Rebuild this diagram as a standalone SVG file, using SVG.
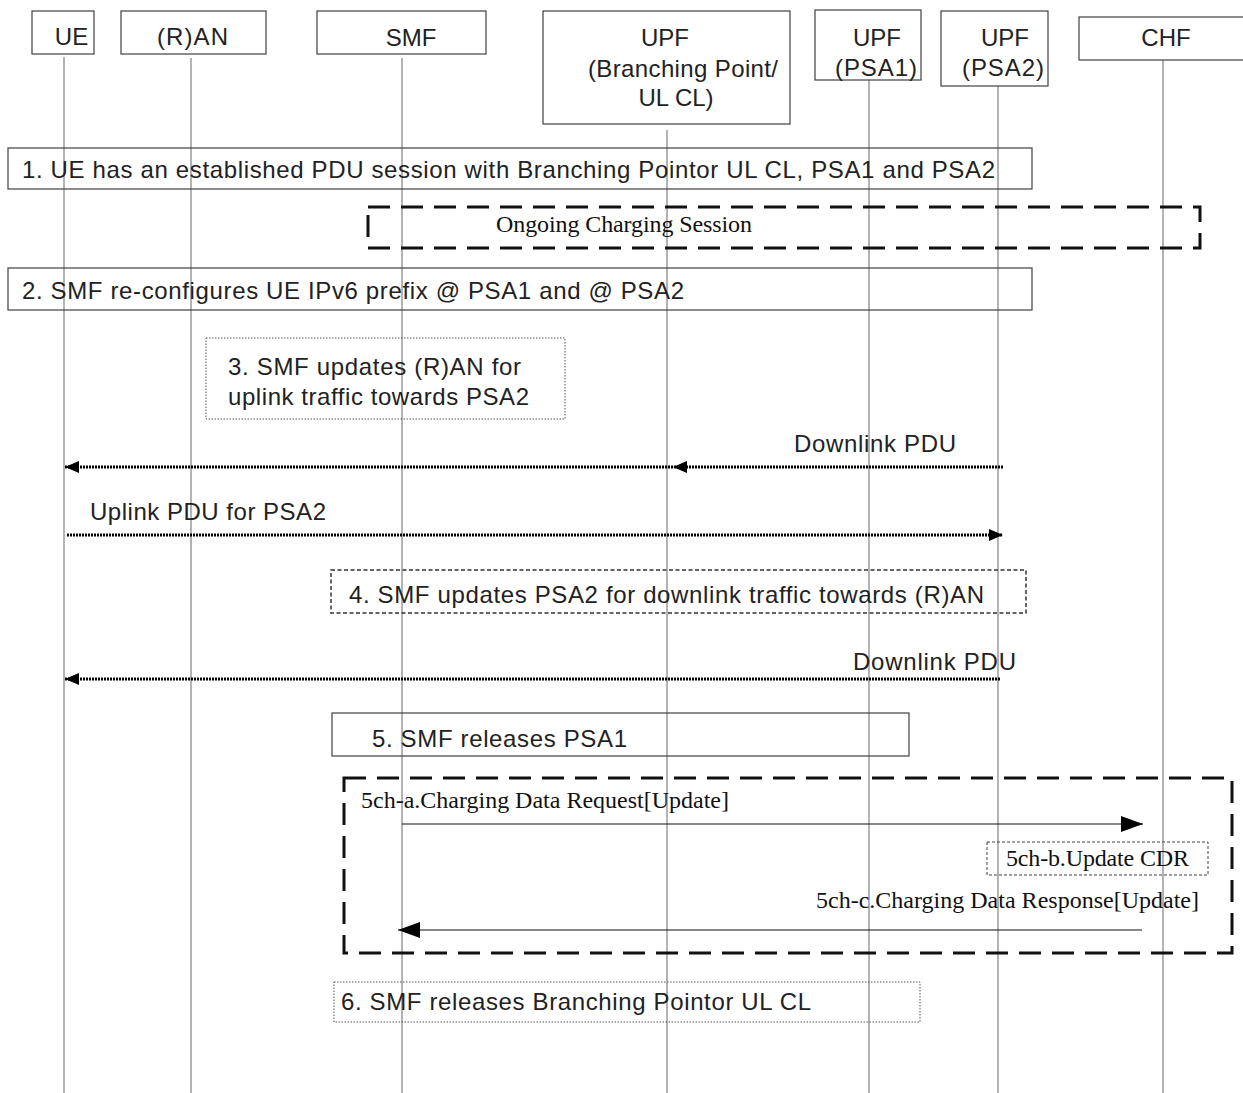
<svg xmlns="http://www.w3.org/2000/svg" width="1243" height="1093" viewBox="0 0 1243 1093">
<style>
.bg{fill:#fff}
.box{fill:#fff;stroke:#404040;stroke-width:1.2}
.life{stroke:#808080;stroke-width:1.2;fill:none}
.t{font-family:"Liberation Sans",Arial,sans-serif;font-size:24px;fill:#222}
.tm{text-anchor:middle}
.s{font-family:"Liberation Serif","Times New Roman",serif;font-size:24px;fill:#111}
.bigdash{fill:none;stroke:#111;stroke-width:3;stroke-dasharray:22 11}
.dot{fill:none;stroke:#555;stroke-width:1;stroke-dasharray:1.5 1.5}
.dash{fill:none;stroke:#333;stroke-width:1.5;stroke-dasharray:4 2.5}
.thin{fill:none;stroke:#444;stroke-width:1;stroke-dasharray:3 2}
.dl{stroke:#000;stroke-width:3;stroke-dasharray:2 1;fill:none}
.sl{stroke:#111;stroke-width:1.2;fill:none}
</style>
<defs>
<marker id="ah" markerUnits="userSpaceOnUse" viewBox="0 0 14 12" markerWidth="14" markerHeight="12" refX="14" refY="6" orient="auto">
<path d="M0,0 L14,6 L0,12 z" fill="#000"/>
</marker>
<marker id="ahb" markerUnits="userSpaceOnUse" viewBox="0 0 22 16" markerWidth="22" markerHeight="16" refX="22" refY="8" orient="auto">
<path d="M0,0 L22,8 L0,16 z" fill="#000"/>
</marker>
</defs>
<rect class="bg" x="0" y="0" width="1243" height="1093"/>

<g id="lifelines">
<line class="life" x1="64" y1="57" x2="64" y2="1093"/>
<line class="life" x1="191" y1="58" x2="191" y2="1093"/>
<line class="life" x1="402" y1="58" x2="402" y2="1093"/>
<line class="life" x1="667" y1="130" x2="667" y2="1093"/>
<line class="life" x1="869" y1="76" x2="869" y2="1093"/>
<line class="life" x1="998" y1="77" x2="998" y2="1093"/>
<line class="life" x1="1163" y1="60" x2="1163" y2="1093"/>
</g>

<g id="node-ue">
<rect class="box" x="32" y="11" width="62" height="43"/>
<text class="t tm" x="71.5" y="45">UE</text>
</g>
<g id="node-ran">
<rect class="box" x="121" y="11" width="145" height="43"/>
<text class="t tm" x="192.5" y="45" textLength="71">(R)AN</text>
</g>
<g id="node-smf">
<rect class="box" x="317" y="11" width="169" height="43"/>
<text class="t tm" x="411" y="46">SMF</text>
</g>
<g id="node-upf-bp">
<rect class="box" x="543" y="11" width="247" height="113"/>
<text class="t tm" x="665" y="46">UPF</text>
<text class="t" x="588" y="77" textLength="190">(Branching Point/</text>
<text class="t tm" x="676" y="106">UL CL)</text>
</g>
<g id="node-upf-psa1">
<rect class="box" x="815" y="10" width="106" height="70"/>
<text class="t tm" x="877" y="46">UPF</text>
<text class="t" x="835" y="76" textLength="82">(PSA1)</text>
</g>
<g id="node-upf-psa2">
<rect class="box" x="941" y="11" width="107" height="75"/>
<text class="t tm" x="1005" y="46">UPF</text>
<text class="t" x="962" y="76" textLength="82">(PSA2)</text>
</g>
<g id="node-chf">
<rect class="box" x="1079" y="17" width="170" height="43"/>
<text class="t tm" x="1166" y="46">CHF</text>
</g>

<g id="step1">
<rect class="box" x="8" y="148" width="1024" height="41" style="fill:none"/>
<text class="t" x="22" y="178" textLength="973">1. UE has an established PDU session with Branching Pointor UL CL, PSA1 and PSA2</text>
</g>
<g id="ongoing">
<rect class="bigdash" x="368" y="207" width="832" height="41"/>
<text class="s" x="496" y="232" textLength="256">Ongoing Charging Session</text>
</g>
<g id="step2">
<rect class="box" x="8" y="268" width="1024" height="42" style="fill:none"/>
<text class="t" x="22" y="299" textLength="662">2. SMF re-configures UE IPv6 prefix @ PSA1 and @ PSA2</text>
</g>
<g id="step3">
<rect class="dot" x="206" y="338" width="359" height="81"/>
<text class="t" x="228" y="375" textLength="293">3. SMF updates (R)AN for</text>
<text class="t" x="228" y="405" textLength="301">uplink traffic towards PSA2</text>
</g>
<g id="step4">
<rect class="dash" x="331" y="570" width="695" height="43"/>
<text class="t" x="349" y="603" textLength="635">4. SMF updates PSA2 for downlink traffic towards (R)AN</text>
</g>
<g id="step5">
<rect class="box" x="332" y="713" width="577" height="43" style="fill:none"/>
<text class="t" x="372" y="747" textLength="255">5. SMF releases PSA1</text>
</g>
<g id="charging-block">
<rect class="bigdash" x="344" y="778" width="888" height="175"/>
<text class="s" x="361" y="808" textLength="368">5ch-a.Charging Data Request[Update]</text>
<rect class="thin" x="987" y="842" width="221" height="33"/>
<text class="s" x="1006" y="866" textLength="183">5ch-b.Update CDR</text>
<text class="s" x="816" y="908" textLength="383">5ch-c.Charging Data Response[Update]</text>
</g>
<g id="step6">
<rect class="dot" x="334" y="982" width="586" height="40"/>
<text class="t" x="341" y="1010" textLength="470">6. SMF releases Branching Pointor UL CL</text>
</g>

<g id="connectors">
<line class="dl" x1="1003" y1="467" x2="673" y2="467" marker-end="url(#ah)"/>
<line class="dl" x1="673" y1="467" x2="65" y2="467" marker-end="url(#ah)"/>
<text class="t" x="794" y="452" textLength="162">Downlink PDU</text>
<line class="dl" x1="67" y1="535" x2="1003" y2="535" marker-end="url(#ah)"/>
<text class="t" x="90" y="520" textLength="236">Uplink PDU for PSA2</text>
<line class="dl" x1="1000" y1="679" x2="65" y2="679" marker-end="url(#ah)"/>
<text class="t" x="853" y="670" textLength="163">Downlink PDU</text>
<line class="sl" x1="402" y1="824" x2="1143" y2="824" marker-end="url(#ahb)"/>
<line class="sl" x1="1142" y1="930" x2="398" y2="930" marker-end="url(#ahb)"/>
</g>
</svg>
